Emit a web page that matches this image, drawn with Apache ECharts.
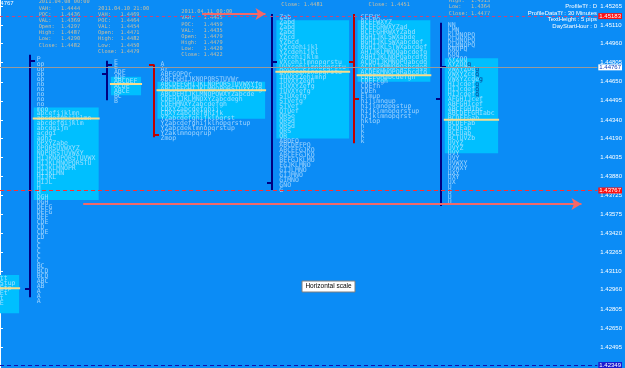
<!DOCTYPE html>
<html><head><meta charset="utf-8">
<script src="https://cdn.jsdelivr.net/npm/echarts@6/dist/echarts.min.js"></script>
<style>html,body{margin:0;padding:0;background:#0b8cf6;overflow:hidden}#c{width:625px;height:368px}</style>
</head><body><div id="c"></div>
<script>
// ---------- data ----------
const profileDate = ['', '2011.04.08 00:00', '2011.04.10 21:00', '2011.04.11 00:00', '2011.04.12 00:00', '2011.04.13 00:00', '2011.04.14 00:00'];
const profileSlot = [-12, 37, 115, 162, 282, 364, 452];   // horizontal-scale units
const vah    = [1.4308, 1.4444, 1.4469, 1.4465, 1.4515, 1.4515, 1.4484];
const poc    = [1.4298, 1.4436, 1.4464, 1.4459, 1.4474, 1.4471, 1.4435];
const val    = [1.4277, 1.4369, 1.4454, 1.4435, 1.4419, 1.4465, 1.4407];
const openP  = [1.4290, 1.4297, 1.4471, 1.4479, 1.4383, 1.4481, 1.4451];
const highP  = [1.4310, 1.4487, 1.4482, 1.4479, 1.4520, 1.4520, 1.4513];
const lowP   = [1.4270, 1.4290, 1.4450, 1.4420, 1.4377, 1.4415, 1.4364];
const closeP = [1.4300, 1.4482, 1.4479, 1.4422, 1.4481, 1.4451, 1.4477];
const rowTop = [1.4305, 1.4483, 1.4481, 1.4479, 1.4517, 1.4517, 1.4511];
const currentLetter = ['', '', '', '', '', '', 'g'];   // latest period letter, drawn dark
const infoDx = [0, 2, -16, 21, 2, 8, 1];
const ROW_STEP = 0.0004;

const rowsP0 = ["KLMtt","JKLStup","JKLEtp","JKLEt","JKLt","JKLE","JKL","JK"];
const rowsP1 = ["P","op","op","op","op","no","no","no","no","no","mno",
  "abcefijklmn","abcdefghijklmn","abcdefgijklm","abcdgijm","acdgi","adhi",
  "OPXYZabe","OPQRSUVWXYZ","NOPQRSTUVWXY","HIJKNOPQRSTUVWX","HIJKLMNOPQRSTU","HIJKLMNOPR",
  "HIJKLMN","HIJKL","HIJL","H","H","DGH","DGH","DEFG","DEFG","DEF","CDE","CD","CDE","CD",
  "C","C","C","C","C","BC","BCD","BCD","ABC","AB","A","A","A"];
const rowsP2 = ["E","E","ADF","ADF","ABCDEF","ACDE","ABCE","BC","B"];
const rowsP3 = ["A","Ar","ABFGOPQr","ABCFGHIJKNOPQRSTUVWr","ABCDEFGHIJKLNOPQRSTUVWXYfg",
  "ABCDEFGHIJKLMNOPQRSTUXYZfg","ABCDEHIJKLMNOPQWXYZabcde","CDEHIJKLMNOXYZabcdegh",
  "CDEHMNXYZabcdefgh","CDXYZabcdefghij","CDXYZabcdefghijk","YZabcdefghijklpqrst",
  "YZabcdefghijklnopqrstup","YZabcdeklmnopqrstup","YZaklmnopqrup","Zmop"];
const rowsP4 = ["Zab","Zabd","Zabd","Zabd","Zbcd","YZbcd","YZcdehijkl","YZcdehijkl","YZcehijklm",
  "VXcehilmnopqrstu","UVXcehilmnopqrstu","UVXYcehinopqrstu","TUVXYZehimnp","TUVXYZegh",
  "TUVXYZefg","TUVXYefg","STUXefg","STVefg","STVef","QTUef","QRSe","QRSd","QRSd","QRS","QR",
  "ABDFQ","ABCDEFPQ","ABCEFGJKO","ABCEFGJKO","BEFGJKLMO","EGJKLMNO","GIJLMNO","GIJMNO",
  "GIMNO","GNO","G"];
const rowsP5 = ["CEFWX","BCEFWXYZ","BCEFGRWXYZad","BCEFGHRWXYZabd","BGHIJKLSWXabde",
  "BGHIJKLSWXabcdef","BGHIJKLSTWXabcdef","AHIJKLMNOQabcdefg","ABHIJKLNOPQabcdfg",
  "ACDHIJKMNOPQabcdg","ACDIJKMNOPQabcdeg","ACDEKMNOPQRabcdfg","CDEFGHabcdefgh","CDEFcgh",
  "CDEfh","CDEh","Elmup","hijlmnqup","hijlmnopqstup","hijklmnopqrstup","hijklmnopqrst",
  "hklop","h","k","k","k"];
const rowsP6 = ["NN","LMN","KLMNOPQ","KLMNOPQ","KLMNOPQ","KNOPQ","KOQ","XYZOQ","XYZOQg",
  "VWXYZOdg","VWXYZcdg","VWXYZcdeg","HIJcdefg","HIJcdefg","HIJcdefg","AFGHIJcef",
  "ABFGHIcef","ABCFGHIbc","ABCDEFGHIabc","BCDEFGab","BCDEFab","BCDEab","BCEUab","BCTUVZb",
  "UVYZ","UVYZ","UVY","UVY","UVWXY","UVWXY","UXY","UXY","UX","U","U","U","U"];
const tpoRows = [rowsP0, rowsP1, rowsP2, rowsP3, rowsP4, rowsP5, rowsP6];

const priceTicks = [1.45265,1.45110,1.44960,1.44805,1.44650,1.44495,1.44340,1.44190,1.44035,
  1.43880,1.43725,1.43575,1.43420,1.43265,1.43110,1.42960,1.42805,1.42650,1.42495];
const levelPrice = [1.45183, 1.44767, 1.43767, 1.42349];
const arrowStart = [[204, 1.45200], [84, 1.43657]];
const arrowEnd   = [[268, 1.45200], [587, 1.43657]];
const settingsText = ['ProfileTf : D', 'ProfileDataTf : 30 Minutes', 'TextHeight : 5 pips', 'DayStartHour : 0'];

// ---------- styles ----------
const CW = 3.913;
const TPO_FONT = '6.5px "DejaVu Sans Mono"';
const INFO_FONT = '5.3px "DejaVu Sans Mono"';
const levelStyle = [
  {line:'#c8457a', type:[3,3], bg:'#ff1010', fg:'#ffffff'},
  {line:'#9a9a9a', type:'solid', bg:'#ffffff', fg:'#1040c0'},
  {line:'#ff3030', type:[4,3], bg:'#ff1010', fg:'#ffffff'},
  {line:'#1010b0', type:[4,3], bg:'#1a1ad0', fg:'#ffffff'}
];

function renderProfile(params, api) {
  const i = api.value(0);
  const slot = profileSlot[i];
  const rows = tpoRows[i];
  const cur = currentLetter[i];
  const maxLen = Math.max.apply(null, rows.map(r => r.length));
  const right = slot + (maxLen + 1) * CW;
  const ch = [];
  const a = api.coord([slot - 3, vah[i]]);
  const b = api.coord([right, val[i]]);
  ch.push({type:'rect', shape:{x:a[0], y:a[1], width:b[0]-a[0], height:b[1]-a[1]}, style:{fill:'#00bfff'}});
  rows.forEach((r, k) => {
    const p = api.coord([slot, rowTop[i] - k * ROW_STEP]);
    const base = cur ? r.split(cur).join(' ') : r;
    ch.push({type:'text', x:p[0], y:p[1], style:{text:base, font:TPO_FONT, fill:'rgba(210,236,255,0.72)', align:'left', verticalAlign:'middle'}});
    if (cur && r.indexOf(cur) >= 0) {
      const hi = r.split('').map(c => c === cur ? c : ' ').join('');
      ch.push({type:'text', x:p[0], y:p[1], style:{text:hi, font:TPO_FONT, fill:'#0a3c8c', align:'left', verticalAlign:'middle'}});
    }
  });
  const pl = api.coord([slot - 4, poc[i]]);
  const pr = api.coord([right + 1, poc[i]]);
  ch.push({type:'line', shape:{x1:pl[0], y1:pl[1]+1, x2:pr[0], y2:pr[1]+1}, style:{stroke:'#f8dc8c', lineWidth:2}});
  // range bar
  const bx = slot - 7;
  const ph = api.coord([bx, highP[i]]), pL = api.coord([bx, lowP[i]]);
  const po = api.coord([bx, openP[i]]), pc = api.coord([bx, closeP[i]]);
  const col = closeP[i] >= openP[i] ? '#000080' : '#c00000';
  const X = Math.round(ph[0]);
  ch.push({type:'line', shape:{x1:X, y1:ph[1], x2:X, y2:pL[1]}, style:{stroke:col, lineWidth:2}});
  ch.push({type:'line', shape:{x1:X-5, y1:Math.round(po[1]), x2:X, y2:Math.round(po[1])}, style:{stroke:col, lineWidth:2}});
  ch.push({type:'line', shape:{x1:X, y1:Math.round(pc[1]), x2:X+5, y2:Math.round(pc[1])}, style:{stroke:col, lineWidth:2}});
  // info block
  if (slot >= 0) {
    const base = api.coord([slot + infoDx[i], highP[i]]);
    const labels = ['', 'VAH:', 'POC:', 'VAL:', 'Open:', 'High:', 'Low:', 'Close:'];
    const vals = [0, vah[i], poc[i], val[i], openP[i], highP[i], lowP[i], closeP[i]];
    labels.forEach((lab, k) => {
      const t = k === 0 ? profileDate[i] : lab.padEnd(7, ' ') + vals[k].toFixed(4);
      const y = base[1] - 9.5 - (7 - k) * 6.15;
      ch.push({type:'text', x:base[0], y:y, style:{text:t, font:INFO_FONT, fill:'#cbbf9e', align:'left', verticalAlign:'middle'}});
    });
  }
  return {type:'group', children:ch};
}

const markData = [];
levelPrice.forEach((v, k) => {
  const s = levelStyle[k];
  markData.push({yAxis:v, symbol:'none', lineStyle:{color:s.line, type:s.type, width:1},
    label:{show:true, position:'end', distance:1, formatter:v.toFixed(5), backgroundColor:s.bg, color:s.fg,
      fontSize:6, fontFamily:'Liberation Sans', padding:[0,1], lineHeight:6}});
});
arrowStart.forEach((s, k) => {
  markData.push([
    {coord:s, symbol:'none', lineStyle:{color:'#f36868', width:2, type:'solid'}, label:{show:false}},
    {coord:arrowEnd[k], symbol:'arrow', symbolSize:[9,10]}
  ]);
});

const chart = echarts.init(document.getElementById('c'), null, {renderer:'canvas'});
chart.setOption({
  animation:false,
  backgroundColor:'#0b8cf6',
  grid:{left:0, right:22, top:0, bottom:0},
  xAxis:{type:'value', min:0, max:603, show:false},
  yAxis:{type:'value', position:'right', min:1.42325, max:1.45314, scale:true,
    axisLine:{show:true, lineStyle:{color:'#ffffff', width:1}},
    axisTick:{show:true, length:3, customValues:priceTicks, lineStyle:{color:'#ffffff'}},
    axisLabel:{show:true, customValues:priceTicks, margin:3, color:'#ffffff', fontSize:6, fontFamily:'Liberation Sans',
      formatter:v => v.toFixed(5)},
    splitLine:{show:false}},
  series:[{
    type:'custom', coordinateSystem:'cartesian2d', silent:true, clip:false,
    renderItem:renderProfile,
    data:profileSlot.map((s, i) => [i, s, highP[i]]),
    encode:{x:1, y:2},
    markLine:{silent:true, animation:false, precision:6, symbol:['none','none'], data:markData}
  }],
  graphic:[
    ...settingsText.map((t, k) => ({type:'text', x:597, y:6 + k*6.9, style:{text:t, fill:'#ffffff', font:'6px "Liberation Sans"', align:'right', verticalAlign:'middle'}})),
    {type:'text', x:-8, y:3, style:{text:'1.44767', fill:'#ffffff', font:'6px "Liberation Sans"', verticalAlign:'middle'}},
    {type:'group', x:302, y:281, children:[
      {type:'rect', shape:{x:0, y:0, width:53, height:11}, style:{fill:'#ffffff', stroke:'#7f7f7f', lineWidth:1}},
      {type:'text', x:26.5, y:5.5, style:{text:'Horizontal scale', fill:'#000000', font:'6.5px "Liberation Sans"', align:'center', verticalAlign:'middle'}}
    ]}
  ]
});
</script></body></html>
